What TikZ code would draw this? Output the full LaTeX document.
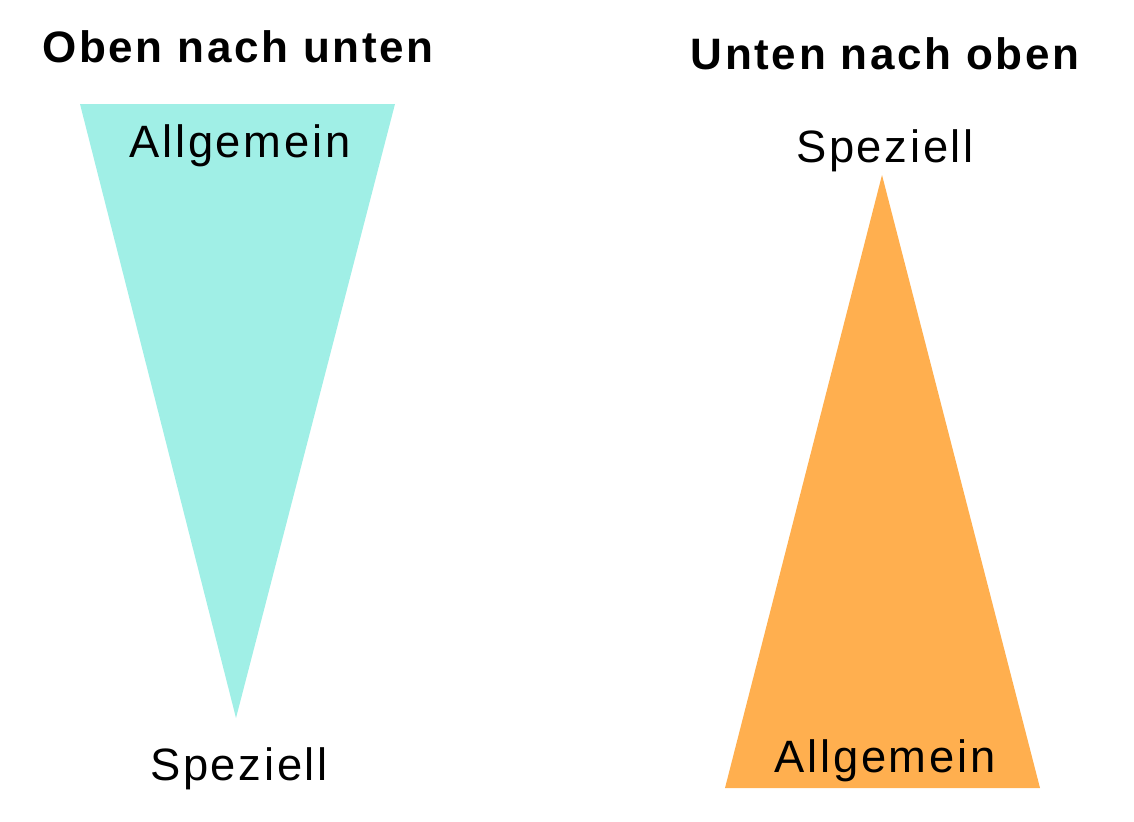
\documentclass[tikz,border=0pt]{standalone}
\usepackage{fontspec}
\setmainfont{Liberation Sans}[LetterSpace=6]
\usepackage{xcolor}
\usepackage{tikz}
\usetikzlibrary{positioning}
\definecolor{tuerkis}{HTML}{A0EFE6}
\definecolor{hellorange}{HTML}{FFAF4F}

\begin{document}
\begin{tikzpicture}[x=0.75pt, y=-0.75pt,
    titel/.style={font=\fontsize{33}{39}\selectfont\bfseries, anchor=base},
    wort/.style={font=\fontsize{34}{40}\selectfont, anchor=base}]
    \useasboundingbox (0,0) rectangle (1134,821);

    % Oben nach unten (Dreieck auf der Spitze)
    \coordinate (lo1) at (80,104);
    \coordinate (lo2) at (395,104);
    \coordinate (lo3) at (236,718);
    \fill[tuerkis] (lo1) -- (lo2) -- (lo3) -- cycle;
    \node[titel] (titelL) at (238,62) {Oben nach unten};
    \node[wort] (allgL) at (240,157) {Allgemein};
    \node[wort] (spezL) at (239,780) {Speziell};

    % Unten nach oben (Dreieck auf der Basis)
    \coordinate (ru1) at (725,788);
    \coordinate (ru2) at (1040,788);
    \coordinate (ru3) at (882,175);
    \fill[hellorange] (ru1) -- (ru2) -- (ru3) -- cycle;
    \node[titel] (titelR) at (885,69) {Unten nach oben};
    \node[wort] (spezR) at (885,162) {Speziell};
    \node[wort] (allgR) at (885,772) {Allgemein};
\end{tikzpicture}
\end{document}
